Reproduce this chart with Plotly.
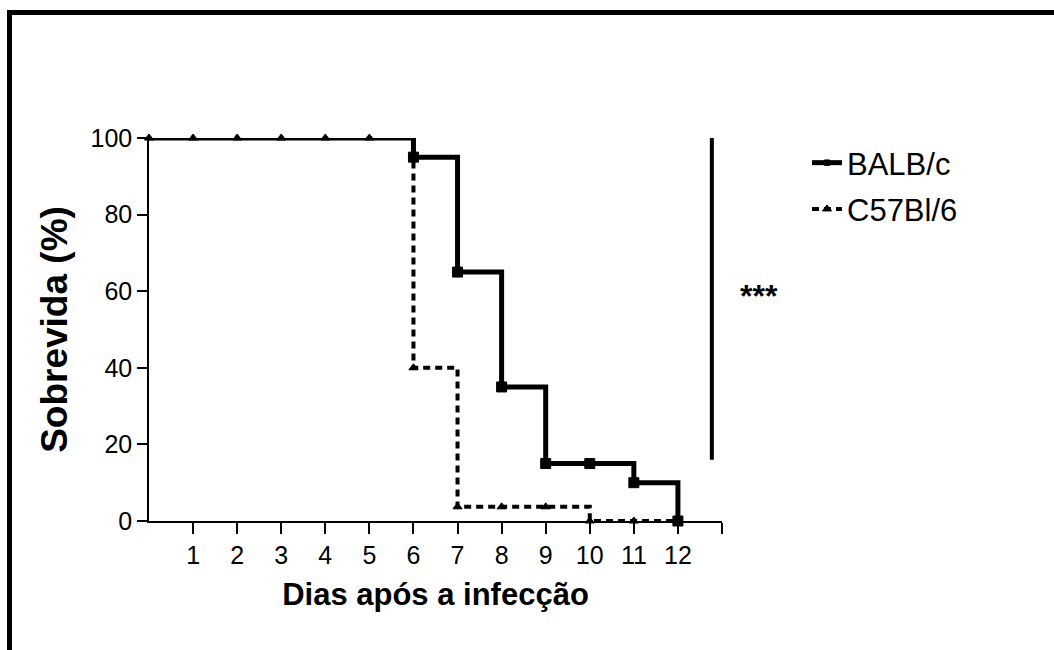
import plotly.graph_objects as go

days = [0, 1, 2, 3, 4, 5, 6, 7, 8, 9, 10, 11, 12]
balbc = [100, 100, 100, 100, 100, 100, 95, 65, 35, 15, 15, 10, 0]
c57 = [100, 100, 100, 100, 100, 100, 40, 3.7, 3.7, 3.7, 0, 0, 0]
xtick_vals = [1, 2, 3, 4, 5, 6, 7, 8, 9, 10, 11, 12, 13]
xtick_text = ["1", "2", "3", "4", "5", "6", "7", "8", "9", "10", "11", "12", ""]
ytick_vals = [0, 20, 40, 60, 80, 100]
sig_bar_x = 12.77
sig_bar_y = [16, 100]
sig_label = "***"

L, R, T, B = 149, 332, 138, 129
W, H = 1054, 650
pw, ph = W - L - R, H - T - B

def px(xp):
    return (xp - L) / pw

def py(yp):
    return (H - B - yp) / ph

# markers only where an event happened (no markers on the 100% plateau for BALB/c)
balb_sizes = [0 if v == 100 else 10 for v in balbc]

fig = go.Figure()
fig.add_trace(go.Scatter(
    x=days, y=c57, name="C57Bl/6", mode="lines+markers",
    line=dict(color="black", width=4, dash="7px,5px", shape="hv"),
    marker=dict(symbol="triangle-up", size=8, color="#000000", opacity=1,
                line=dict(width=1, color="#000000")),
    cliponaxis=False, legendgroup="b", legendrank=2))
fig.add_trace(go.Scatter(
    x=days, y=balbc, name="BALB/c", mode="lines+markers",
    line=dict(color="black", width=5, shape="hv"),
    marker=dict(symbol="square", size=balb_sizes, color="#000000", opacity=1,
                line=dict(width=1, color="#000000")),
    cliponaxis=False, legendgroup="a", legendrank=1))

fig.add_shape(type="line", xref="x", yref="y", x0=sig_bar_x, x1=sig_bar_x,
              y0=sig_bar_y[0], y1=sig_bar_y[1], line=dict(color="black", width=4))
fig.add_annotation(x=px(780), y=py(296), xref="paper", yref="paper", text="<b>" + sig_label + "</b>",
                   showarrow=False, font=dict(size=32, color="black"))

# outer frame (top and left edges)
fig.add_shape(type="line", xref="paper", yref="paper", x0=px(9.5), x1=px(1060),
              y0=py(12.5), y1=py(12.5), line=dict(color="black", width=5))
fig.add_shape(type="line", xref="paper", yref="paper", x0=px(9.5), x1=px(9.5),
              y0=py(10), y1=py(660), line=dict(color="black", width=5))

fig.update_layout(
    width=W, height=H,
    margin=dict(l=L, r=R, t=T, b=B),
    paper_bgcolor="white", plot_bgcolor="white",
    font=dict(family="Liberation Sans, Arial, sans-serif", color="black", size=25),
    showlegend=True,
    legend=dict(x=px(807), y=py(136), xanchor="left", yanchor="top",
                font=dict(size=31), traceorder="grouped", tracegroupgap=3,
                bgcolor="rgba(0,0,0,0)"),
    xaxis=dict(range=[0, 13], tickvals=xtick_vals, ticktext=xtick_text,
               showline=True, linecolor="black", linewidth=1.5,
               ticks="outside", ticklen=11, tickwidth=1.5, tickcolor="black",
               showgrid=False, zeroline=False,
               title=dict(text="<b>Dias após a infecção</b>", font=dict(size=31), standoff=16)),
    yaxis=dict(range=[0, 100], tickvals=ytick_vals,
               showline=True, linecolor="black", linewidth=1.5,
               ticks="outside", ticklen=10, tickwidth=1.5, tickcolor="black",
               showgrid=False, zeroline=False,
               title=dict(text="<b>Sobrevida (%)</b>", font=dict(size=37), standoff=12)),
)

fig.write_html("out.html")
